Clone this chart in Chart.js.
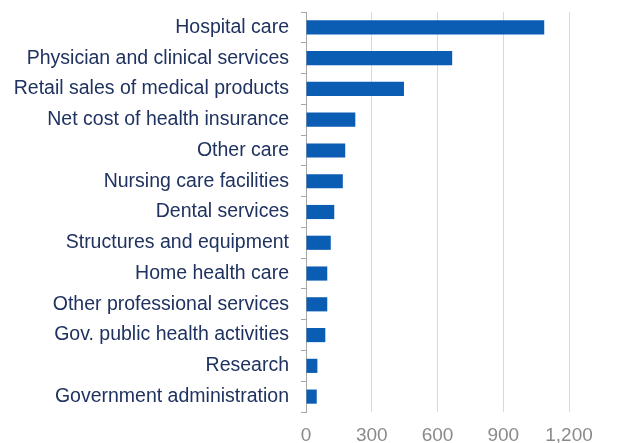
<!DOCTYPE html>
<html>
<head>
<meta charset="utf-8">
<script src="https://cdn.jsdelivr.net/npm/chart.js@4/dist/chart.umd.min.js"></script>
<style>
  html, body { margin: 0; padding: 0; background: #ffffff; }
  #wrap { width: 628px; height: 443px; position: relative; }
</style>
</head>
<body>
<div id="wrap"><canvas id="c"></canvas></div>
<script>
// Spending categories, top to bottom
const categories = [
  "Hospital care",
  "Physician and clinical services",
  "Retail sales of medical products",
  "Net cost of health insurance",
  "Other care",
  "Nursing care facilities",
  "Dental services",
  "Structures and equipment",
  "Home health care",
  "Other professional services",
  "Gov. public health activities",
  "Research",
  "Government administration"
];

// Spending (billions of dollars)
const spending = [1087, 667, 447, 225, 179, 168, 129, 113, 97, 97, 88, 52, 49];

// Value axis ticks
const xTicks = [0, 300, 600, 900, 1200];

const fontFamily = "'Liberation Sans', Arial, sans-serif";

new Chart(document.getElementById("c"), {
  type: "bar",
  data: {
    labels: categories,
    datasets: [{
      data: spending,
      backgroundColor: "#0B5DB3",
      borderWidth: 0,
      barPercentage: 0.46,
      categoryPercentage: 1.0
    }]
  },
  options: {
    indexAxis: "y",
    responsive: true,
    maintainAspectRatio: false,
    animation: false,
    layout: { padding: { top: 12, right: 59, left: 0, bottom: 0 } },
    plugins: { legend: { display: false }, tooltip: { enabled: false } },
    scales: {
      x: {
        min: xTicks[0],
        max: xTicks[xTicks.length - 1],
        afterBuildTicks: (scale) => { scale.ticks = xTicks.map(v => ({ value: v })); },
        grid: { color: "#d9d9d9", lineWidth: 1, drawTicks: false },
        border: { display: false },
        ticks: {
          color: "#8a8a8a",
          padding: 12,
          font: { family: fontFamily, size: 19 },
          callback: (v) => v.toLocaleString("en-US")
        },
        afterFit: (scale) => { scale.height = 31; }
      },
      y: {
        grid: { drawOnChartArea: false, color: "#a6a6a6", tickLength: 5, offset: true },
        border: { display: true, color: "#a6a6a6", width: 1 },
        ticks: {
          color: "#1F3260",
          padding: 12,
          font: { family: fontFamily, size: 19.5 }
        },
        afterFit: (scale) => {
          scale.width = 306;
          // category bands fill the full height; no extra room for label overhang
          scale.paddingTop = 0;
          scale.paddingBottom = 0;
        }
      }
    }
  }
});
</script>
</body>
</html>
